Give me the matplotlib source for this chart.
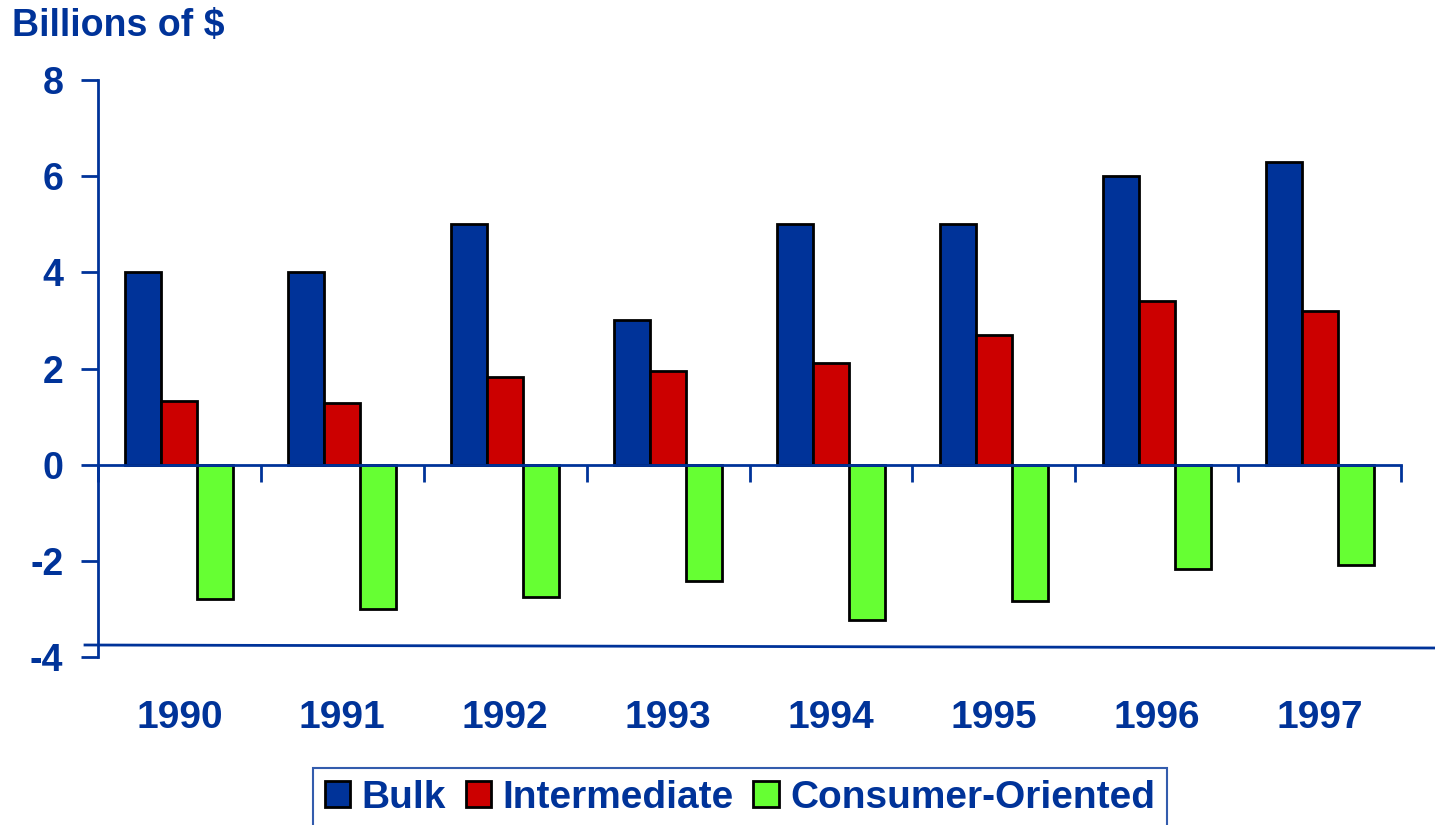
import matplotlib.pyplot as plt
import numpy as np
from matplotlib.lines import Line2D

# datos
anios = ["1990", "1991", "1992", "1993", "1994", "1995", "1996", "1997"]
bulk = [4.0, 4.0, 5.0, 3.0, 5.0, 5.0, 6.0, 6.3]
intermedio = [1.32, 1.28, 1.82, 1.95, 2.11, 2.70, 3.40, 3.19]
consumo = [-2.80, -3.01, -2.76, -2.42, -3.22, -2.84, -2.17, -2.09]
series = ["Bulk", "Intermediate", "Consumer-Oriented"]
colores = ["#003399", "#CC0000", "#66FF33"]

azul = "#003399"
plt.rcParams['font.family'] = ['Liberation Sans', 'DejaVu Sans']
plt.rcParams['font.weight'] = 'bold'
plt.rcParams['axes.unicode_minus'] = False

fig = plt.figure(figsize=(14.35, 8.25), dpi=100)
ax = fig.add_axes([0.0683, 0.2036, 0.9080, 0.6994])

x = np.arange(len(anios))
ancho = 0.221
for i, (vals, nombre, c) in enumerate(zip([bulk, intermedio, consumo], series, colores)):
    ax.bar(x + (i - 1) * ancho, vals, ancho, color=c, edgecolor='black',
           linewidth=2, label=nombre, zorder=2)

ax.set_xlim(-0.5, len(anios) - 0.5)
ax.set_ylim(-4, 8)
ax.set_yticks(np.arange(-4, 9, 2))

# ejes
for s in ['top', 'right']:
    ax.spines[s].set_visible(False)
ax.spines['left'].set_color(azul)
ax.spines['left'].set_linewidth(2)
ax.spines['bottom'].set_position(('data', 0))
ax.spines['bottom'].set_color(azul)
ax.spines['bottom'].set_linewidth(2)
ax.spines['bottom'].set_zorder(3)

ax.set_xticks(np.arange(len(anios) + 1) - 0.5)
ax.set_xticklabels([])
ax.tick_params(axis='x', direction='out', length=12, width=2, color=azul)
ax.tick_params(axis='y', direction='out', length=12, width=2, color=azul,
               labelsize=27, labelcolor=azul, pad=13)

# etiquetas de los anios abajo
sec = ax.secondary_xaxis('bottom')
sec.set_xticks(x)
sec.set_xticklabels(anios)
sec.tick_params(length=0, pad=31, labelsize=28, labelcolor=azul)
sec.spines['bottom'].set_visible(False)

# linea inferior
fig.add_artist(Line2D([85 / 1435, 1.0], [1 - 645 / 825, 1 - 648 / 825],
                      color=azul, linewidth=2))

fig.text(12 / 1435, 1 - 8 / 825, "Billions of $", color=azul, fontsize=27,
         fontweight='bold', va='top', ha='left')

leg = ax.legend(loc='upper center', bbox_to_anchor=(740 / 1435, 1 - 768 / 825),
                bbox_transform=fig.transFigure, ncol=3, fontsize=28,
                frameon=True, fancybox=False, handlelength=0.65,
                handleheight=0.65, handletextpad=0.3, columnspacing=0.5,
                borderpad=0.3, borderaxespad=0)
leg.get_frame().set_edgecolor(azul)
leg.get_frame().set_linewidth(1.5)
for t in leg.get_texts():
    t.set_color(azul)

fig.savefig("out.png", dpi=100)
